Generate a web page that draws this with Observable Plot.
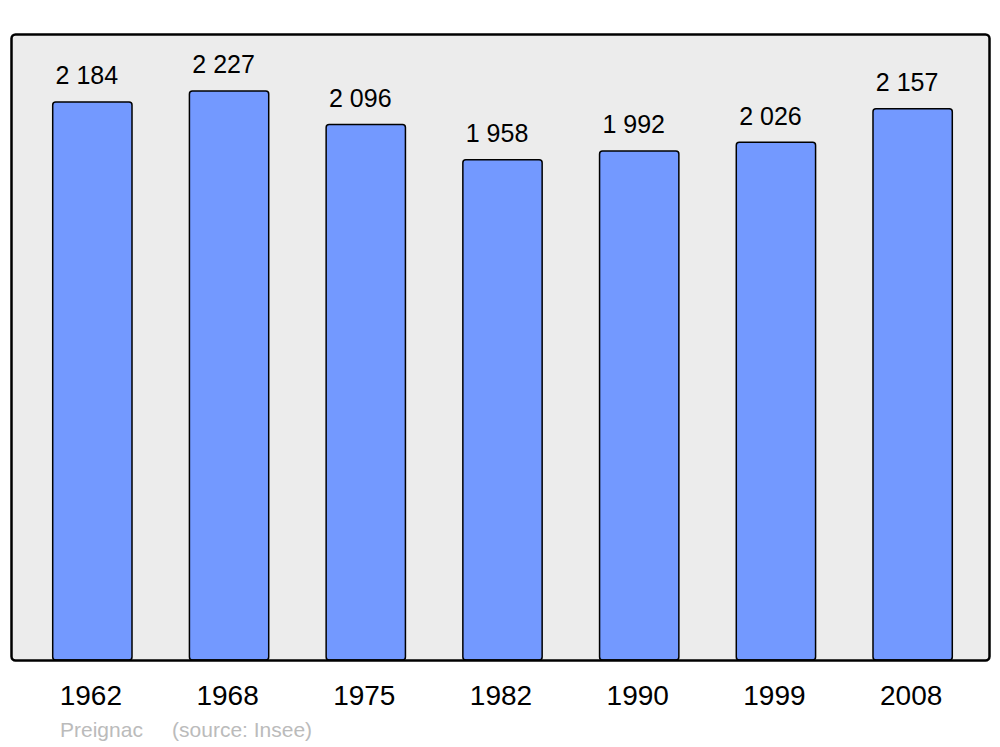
<!DOCTYPE html>
<html><head><meta charset="utf-8">
<script src="https://cdn.jsdelivr.net/npm/d3@7"></script>
<script src="https://cdn.jsdelivr.net/npm/@observablehq/plot@0.6"></script>
<style>
body{margin:0;background:#fff;font-family:"Liberation Sans",Arial,sans-serif}
#chart svg{display:block;font-family:"Liberation Sans",Arial,sans-serif}
#caption{position:absolute;left:60px;top:718px;font-size:21px;color:#bbb;white-space:pre;font-family:"Liberation Sans",Arial,sans-serif}
</style></head><body>
<div id="chart"></div>
<div id="caption"></div>
<script>
const years = ["1962","1968","1975","1982","1990","1999","2008"];
const population = [2184,2227,2096,1958,1992,2026,2157];
const place = "Preignac";
const source = "(source: Insee)";

const data = years.map((y,i)=>({year:y, pop:population[i]}));
const fmt = v => d3.format(",")(v).replace(/,/g, " ");

const chart = Plot.plot({
  width:1000, height:710,
  marginTop:34, marginBottom:50, marginLeft:11, marginRight:11,
  x:{domain:years, paddingInner:0.42, paddingOuter:0.21, insetLeft:13, insetRight:8, round:false, axis:null, label:null},
  y:{domain:[0, d3.max(population)*1.1], axis:null},
  marks:[
    Plot.frame({fill:"#ececec"}),
    Plot.barY(data,{x:"year", y:"pop", fill:"#7399ff", stroke:"black", strokeWidth:1.5, rx:3}),
    Plot.text(data,{x:"year", y:"pop", text:d=>fmt(d.pop), dy:-18, dx:-6, lineAnchor:"bottom", fontSize:25, fill:"black"}),
    Plot.frame({stroke:"black", strokeWidth:2.5, rx:4}),
    Plot.axisX({tickSize:0, tickPadding:25, dx:-2, fontSize:28, fill:"black", label:null})
  ]
});
document.getElementById("chart").appendChild(chart);
document.getElementById("caption").textContent = place + "     " + source;
</script>
</body></html>
